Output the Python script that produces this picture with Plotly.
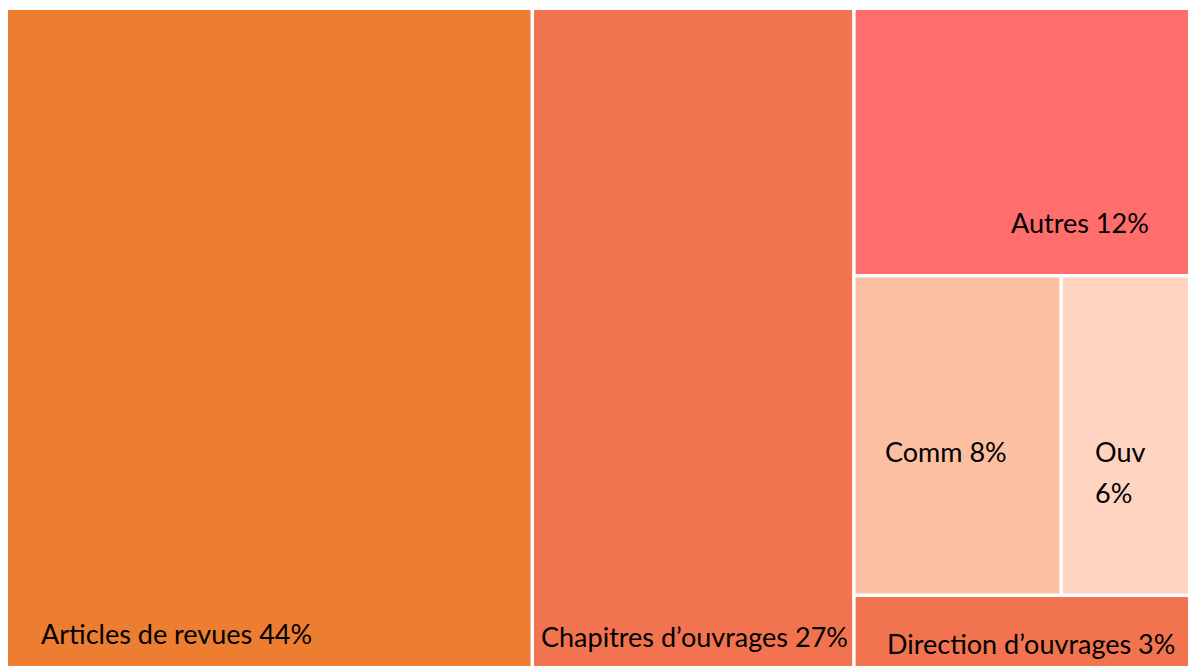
import plotly.graph_objects as go

# ---- data (shares in %, read from the tile areas) ----
categories = ["Articles de revues", "Chapitres d’ouvrages", "Autres", "Comm", "Ouv", "Direction d’ouvrages"]
values = [44.0, 26.9, 11.8, 8.4, 5.7, 3.2]
colors = ["#ED7D31", "#F2734F", "#FF6D6D", "#FDBFA2", "#FED3C0", "#F2734F"]
# grouping used to reproduce the Excel-like tiling
groups = ["root", "root", "g1", "g2", "g2", "g1"]

# ---- hierarchy ----
ids = ["root", "g1", "g2"] + [f"c{i}" for i in range(len(categories))]
parents = ["", "root", "g1"] + groups
g2_val = sum(v for v, g in zip(values, groups) if g == "g2")
g1_val = sum(v for v, g in zip(values, groups) if g == "g1") + g2_val
root_val = sum(v for v, g in zip(values, groups) if g == "root") + g1_val
vals = [root_val, g1_val, g2_val] + values
labels = ["", "", ""] + categories
mcolors = ["#FFFFFF", "#FFFFFF", "#FFFFFF"] + colors

# order of children: root -> Articles, Chapitres, g1 ; g1 -> Autres, g2, Direction
order = [0, 3, 4, 1, 5, 2, 6, 7, 8]
ids = [ids[i] for i in order]
parents = [parents[i] for i in order]
vals = [vals[i] for i in order]
labels = [labels[i] for i in order]
mcolors = [mcolors[i] for i in order]

fig = go.Figure(go.Treemap(
    ids=ids, parents=parents, values=vals, labels=labels,
    branchvalues="total", sort=False,
    marker=dict(colors=mcolors, line=dict(width=0),
                pad=dict(t=0, l=0, r=0, b=0)),
    tiling=dict(packing="squarify", squarifyratio=1, pad=3.5),
    pathbar=dict(visible=False),
    textinfo="none", hoverinfo="skip",
))

# the original chart runs a little past the right edge of the window
W, H = 1200, 666
ML, MT, MR, MB = 8, 10, 0, 0
PW, PH = W - ML - MR, H - MT - MB

def px(x):
    return (x - ML) / PW

def py(y):
    return 1 - (y - MT) / PH

pct = [round(v) for v in values]

# label lines and their pixel anchors (left x, vertical centre y)
label_lines = [
    (f"{categories[0]} {pct[0]}%", 39, 633),
    (f"{categories[1]} {pct[1]}%", 539, 636),
    (f"{categories[2]} {pct[2]}%", 1009, 222),
    (f"{categories[3]} {pct[3]}%", 883, 451),
    (f"{categories[4]}", 1093, 451),
    (f"{pct[4]}%", 1093, 492),
    (f"{categories[5]} {pct[5]}%", 885, 643),
]

annotations = [
    dict(text=t, x=px(x), y=py(y), xref="paper", yref="paper",
         xanchor="left", yanchor="middle", showarrow=False,
         font=dict(family="Lato", size=27, color="#000000"))
    for t, x, y in label_lines
]

fig.update_layout(
    width=W, height=H,
    margin=dict(l=ML, r=MR, t=MT, b=MB, pad=0),
    paper_bgcolor="#FFFFFF",
    annotations=annotations,
    showlegend=False,
)

fig.write_html(
    "out.html",
    config={"displayModeBar": False},
    post_script="document.body.style.margin='0';document.body.style.overflow='hidden';",
)
